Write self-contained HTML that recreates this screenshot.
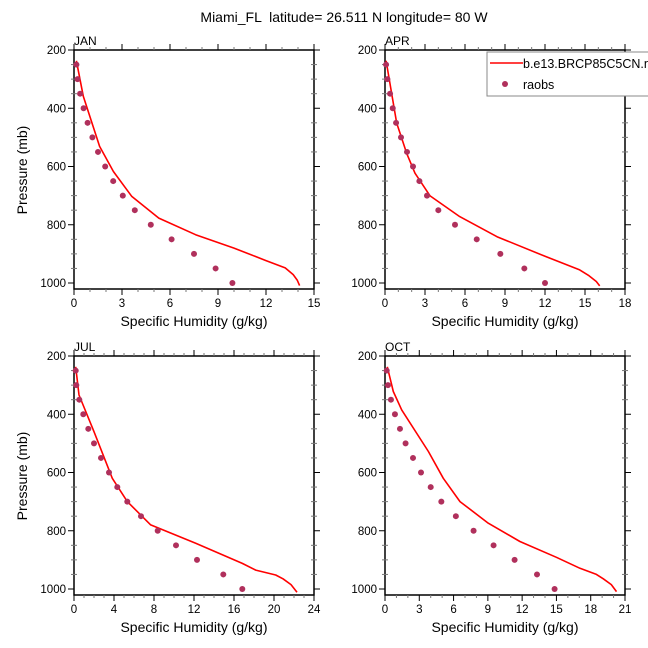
<!DOCTYPE html>
<html><head><meta charset="utf-8"><style>
html,body{margin:0;padding:0;background:#fff;}
svg{display:block;font-family:"Liberation Sans",Arial,sans-serif;}
</style></head><body>
<svg id="chart" width="648" height="648" viewBox="0 0 648 648" xmlns="http://www.w3.org/2000/svg">
<text x="344" y="22" font-size="14" text-anchor="middle" style="white-space:pre">Miami_FL  latitude= 26.511 N longitude= 80 W</text>
</svg>
<script>
const months = ["JAN","APR","JUL","OCT"];
const xMaxes = [15, 18, 24, 21];
const xSteps = [3, 3, 4, 3];
const obsP = [250,300,350,400,450,500,550,600,650,700,750,800,850,900,950,1000];
const obsJAN = [0.15,0.22,0.38,0.6,0.85,1.15,1.5,1.95,2.45,3.05,3.8,4.8,6.1,7.5,8.85,9.9];
const obsAPR = [0.08,0.18,0.38,0.58,0.83,1.2,1.65,2.1,2.58,3.15,4.0,5.25,6.88,8.65,10.45,12.0];
const obsJUL = [0.17,0.23,0.53,0.93,1.43,2.0,2.7,3.5,4.33,5.33,6.7,8.37,10.2,12.3,14.93,16.83];
const obsOCT = [0.15,0.26,0.52,0.87,1.31,1.8,2.45,3.15,4.0,4.93,6.2,7.75,9.5,11.34,13.3,14.84];
const modJANp = [237,359,531,617,702,777,834,880,923,948,971,990,1009];
const modJANq = [0.15,0.58,1.6,2.46,3.6,5.3,7.6,10.0,12.0,13.2,13.7,13.95,14.1];
const modAPRp = [237,451,555,623,701,772,841,910,955,975,995,1010];
const modAPRq = [0.08,0.88,1.63,2.25,3.38,5.6,8.4,12.1,14.6,15.3,15.85,16.1];
const modJULp = [237,334,460,620,700,780,843,912,935,952,965,985,1011];
const modJULq = [0.17,0.5,2.0,3.83,5.33,7.67,12.17,16.83,18.17,20.17,20.9,21.7,22.3];
const modOCTp = [237,322,385,528,620,700,774,837,891,929,950,965,985,1009];
const modOCTq = [0.2,0.73,1.46,3.8,5.1,6.56,9.04,11.8,15.0,17.06,18.5,19.1,19.8,20.26];
const yTicks = [200,400,600,800,1000];

const obsQ = [obsJAN, obsAPR, obsJUL, obsOCT];
const modP = [modJANp, modAPRp, modJULp, modOCTp];
const modQ = [modJANq, modAPRq, modJULq, modOCTq];

const NS = "http://www.w3.org/2000/svg";
const svg = document.getElementById("chart");
function mk(tag, attrs, parent){ const e=document.createElementNS(NS,tag); for(const k in attrs) e.setAttribute(k,attrs[k]); (parent||svg).appendChild(e); return e; }

const panels = [{x:74,y:50},{x:385,y:50},{x:74,y:356},{x:385,y:356}];
const W = 240, H = 239;

panels.forEach((pp, i) => {
  const g = mk("g", {});
  
  
  const xs = q => pp.x + q / xMaxes[i] * W;
  const ys = p => pp.y + (p - 200) * 0.29125;
  const fr = mk("rect", {x:pp.x, y:pp.y, width:W, height:H, fill:"none", stroke:"#000", "stroke-width":1.5}, g);
  
  
  for (let p = 200; p <= 1000; p += 50) {
    const y = ys(p);
    const major = (p % 200 === 0);
    const len = major ? 6 : 3;
    mk("line", {x1:pp.x-len, x2:pp.x+(major?0:3), y1:y, y2:y, stroke: major?"#000":"#777", "stroke-width":1}, g);
    mk("line", {x1:pp.x+W-(major?0:3), x2:pp.x+W+len, y1:y, y2:y, stroke: major?"#000":"#777", "stroke-width":1}, g);
  }
  yTicks.forEach(p => {
    const t = mk("text", {x:pp.x-8, y:ys(p)+4, "font-size":11.5, "text-anchor":"end"}, g);
    t.textContent = p;
    
    
  });
  for (let q = 0; q <= xMaxes[i]; q += 1) {
    const x = xs(q);
    const major = (q % xSteps[i] === 0);
    const len = major ? 6 : 3;
    mk("line", {x1:x, x2:x, y1:pp.y+H, y2:pp.y+H+len, stroke: major?"#000":"#777", "stroke-width":1}, g);
    mk("line", {x1:x, x2:x, y1:pp.y-len, y2:pp.y, stroke: major?"#000":"#777", "stroke-width":1}, g);
    if (major) {
      const t = mk("text", {x:x, y:pp.y+H+18, "font-size":11.5, "text-anchor":"middle"}, g);
      t.textContent = q;
      
      
    }
  }
  const ml = mk("text", {x:pp.x, y:pp.y-5, "font-size":12}, g);
  ml.textContent = months[i];
  
  
  const xt = mk("text", {x:pp.x+W/2, y:pp.y+H+37, "font-size":14, "text-anchor":"middle"}, g);
  xt.textContent = "Specific Humidity (g/kg)";
  
  
  if (i % 2 === 0) {
    const yt = mk("text", {x:0, y:0, "font-size":14, "text-anchor":"middle", transform:`translate(27,${pp.y+120}) rotate(-90)`}, g);
    yt.textContent = "Pressure (mb)";
    
    
  }
  const pts = modP[i].map((p, k) => xs(modQ[i][k]).toFixed(1) + "," + ys(p).toFixed(1)).join(" ");
  const pl = mk("polyline", {points:pts, fill:"none", stroke:"#ff0000", "stroke-width":1.6, "stroke-linejoin":"round"}, g);
  
  
  obsP.forEach((p, k) => {
    const c = mk("circle", {cx:xs(obsQ[i][k]), cy:ys(p), r:3, fill:"#b0305c"}, g);
    
    
  });
});

const lg = mk("g", {});


mk("rect", {x:487, y:52, width:170, height:44, fill:"#fff", stroke:"#888", "stroke-width":1}, lg);
mk("line", {x1:490, x2:523, y1:63, y2:63, stroke:"#ff0000", "stroke-width":1.6}, lg);
const l1 = mk("text", {x:523, y:68, "font-size":12.5}, lg);
l1.textContent = "b.e13.BRCP85C5CN.ne120";


mk("circle", {cx:505, cy:84, r:3, fill:"#b0305c"}, lg);
const l2 = mk("text", {x:523, y:89, "font-size":12.5}, lg);
l2.textContent = "raobs";


</script>
</body></html>
